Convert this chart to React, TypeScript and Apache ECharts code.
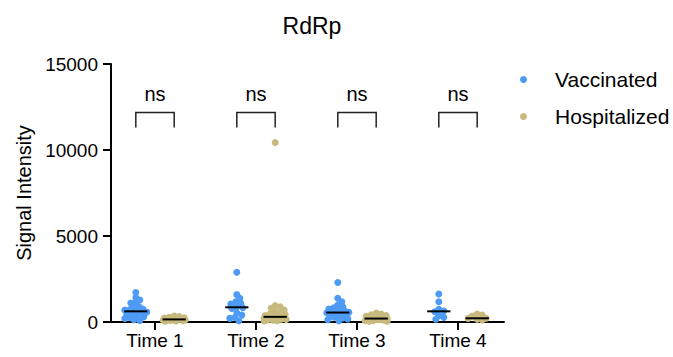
import React, { useEffect, useRef } from "react";
import * as echarts from "echarts";

const TITLE = "RdRp";
const CATEGORIES = ["Time 1", "Time 2", "Time 3", "Time 4"];
const SERIES_NAMES = ["Vaccinated", "Hospitalized"];
const Y_AXIS_NAME = "Signal Intensity";
const SIG_LABELS = ["ns", "ns", "ns", "ns"];

const VACC_T1 = [1720, 1420, 1280, 1140, 1100, 900, 880, 760, 720, 690, 620, 580, 520, 450, 410, 330, 300, 260, 200, 130, 90];
const VACC_T2 = [2890, 1590, 1380, 1180, 1090, 1050, 880, 830, 780, 520, 400, 260, 210, 75];
const VACC_T3 = [2300, 1380, 1180, 980, 890, 820, 760, 700, 640, 600, 560, 540, 520, 480, 430, 380, 330, 280, 230, 180, 130, 80];
const VACC_T4 = [1625, 1180, 740, 640, 600, 370, 270, 160];

const HOSP_T1 = [350, 320, 280, 250, 230, 200, 180, 160, 150, 140, 120, 110, 100, 90, 80, 60, 50];
const HOSP_T2 = [10440, 950, 880, 800, 700, 600, 520, 480, 420, 380, 350, 320, 300, 280, 260, 240, 220, 200, 180, 160, 140, 120, 100, 80, 60];
const HOSP_T3 = [520, 460, 420, 380, 330, 300, 260, 230, 210, 190, 170, 150, 130, 110, 90, 70, 50, 40];
const HOSP_T4 = [460, 400, 350, 215, 210, 160, 115];

const VACCINATED = [VACC_T1, VACC_T2, VACC_T3, VACC_T4];
const HOSPITALIZED = [HOSP_T1, HOSP_T2, HOSP_T3, HOSP_T4];

const Y_MIN = 0;
const Y_MAX = 15000;
const Y_INTERVAL = 5000;
const BRACKET_TOP = 12180;
const BRACKET_LEG = 11310;
const SIG_TEXT_Y = 13250;

const COLORS = ["#4E9BF5", "#C8B97E"];
const FONT = "'Liberation Sans', Arial, sans-serif";

const X_MIN = 1 - 44 / 101;
const X_MAX = X_MIN + 393 / 101;
const GROUP_OFFSET = 0.19;
const PX_X = 101;
const PX_Y = 258 / 15000;

function median(arr: number[]) {
  const s = [...arr].sort((a, b) => a - b);
  const n = s.length;
  return n % 2 ? s[(n - 1) / 2] : (s[n / 2 - 1] + s[n / 2]) / 2;
}

function swarm(values: number[], center: number): number[][] {
  const placed: { x: number; y: number }[] = [];
  const out: number[][] = [];
  const D = 4.6;
  const sorted = [...values].sort((a, b) => b - a);
  for (const v of sorted) {
    const py = v * PX_Y;
    let bestDx = 0;
    let bestScore = -1;
    for (let k = 0; k <= 22; k++) {
      const dx = k === 0 ? 0 : k % 2 ? (k + 1) / 2 : -k / 2;
      let minD = Infinity;
      for (const p of placed) {
        const d = Math.hypot(p.x - dx, p.y - py);
        if (d < minD) minD = d;
      }
      if (minD >= D) {
        bestDx = dx;
        bestScore = Infinity;
        break;
      }
      if (minD > bestScore) {
        bestScore = minD;
        bestDx = dx;
      }
    }
    placed.push({ x: bestDx, y: py });
    out.push([center + bestDx / PX_X, v]);
  }
  return out;
}

export default function App() {
  const ref = useRef<HTMLDivElement>(null);
  useEffect(() => {
    if (!ref.current) return;
    const chart = echarts.init(ref.current, null, { renderer: "svg" });
    const groups = [VACCINATED, HOSPITALIZED];
    const scatterSeries = groups.map((g, gi) => {
      const off = gi === 0 ? -GROUP_OFFSET : GROUP_OFFSET;
      const data: number[][] = [];
      g.forEach((vals, ci) => {
        data.push(...swarm(vals, ci + 1 + off));
      });
      return {
        name: SERIES_NAMES[gi],
        type: "scatter",
        symbol: "circle",
        symbolSize: 7,
        itemStyle: { color: COLORS[gi], opacity: 1 },
        data,
        z: 2,
      };
    });
    const medianData: number[][] = [];
    groups.forEach((g, gi) => {
      const off = gi === 0 ? -GROUP_OFFSET : GROUP_OFFSET;
      g.forEach((vals, ci) => medianData.push([ci + 1 + off, median(vals)]));
    });
    const option: any = {
      animation: false,
      textStyle: { fontFamily: FONT },
      title: {
        text: TITLE,
        left: 307,
        top: 9,
        textAlign: "center",
        textStyle: { fontSize: 23, fontWeight: "normal", color: "#000", fontFamily: FONT },
      },
      legend: {
        orient: "vertical",
        left: 520,
        top: 69,
        padding: 0,
        itemWidth: 7,
        itemHeight: 7,
        itemGap: 16,
        icon: "circle",
        data: SERIES_NAMES,
        textStyle: { fontSize: 21, color: "#000", fontFamily: FONT, padding: [0, 0, 0, 23] },
      },
      grid: { left: 111, right: 169, top: 64, bottom: 35 },
      xAxis: {
        type: "value",
        min: X_MIN,
        max: X_MAX,
        axisLine: { show: true, lineStyle: { color: "#000", width: 2 } },
        axisTick: { show: true, customValues: [1, 2, 3, 4], length: 8, lineStyle: { color: "#000", width: 2 } },
        axisLabel: {
          customValues: [1, 2, 3, 4],
          formatter: (v: number) => CATEGORIES[Math.round(v) - 1] || "",
          fontSize: 19,
          color: "#000",
          margin: 9,
          fontFamily: FONT,
        },
        splitLine: { show: false },
      },
      yAxis: {
        type: "value",
        min: Y_MIN,
        max: Y_MAX,
        interval: Y_INTERVAL,
        name: Y_AXIS_NAME,
        nameLocation: "middle",
        nameGap: 74,
        nameTextStyle: { fontSize: 20, color: "#000", fontFamily: FONT },
        axisLine: { show: true, lineStyle: { color: "#000", width: 2 } },
        axisTick: { show: true, length: 8, lineStyle: { color: "#000", width: 2 } },
        axisLabel: {
          fontSize: 19,
          color: "#000",
          margin: 13,
          fontFamily: FONT,
          formatter: (v: number) => String(v),
        },
        splitLine: { show: false },
      },
      series: [
        ...scatterSeries,
        {
          type: "custom",
          name: "median",
          data: medianData,
          z: 3,
          silent: true,
          renderItem: (params: any, api: any) => {
            const x = api.value(0);
            const y = api.value(1);
            const a = api.coord([x - 0.115, y]);
            const b = api.coord([x + 0.115, y]);
            return {
              type: "line",
              shape: { x1: a[0], y1: a[1], x2: b[0], y2: b[1] },
              style: { stroke: "#000", lineWidth: 2 },
            };
          },
        },
        {
          type: "custom",
          name: "sig",
          data: CATEGORIES.map((_, i) => [i + 1, BRACKET_TOP]),
          silent: true,
          clip: false,
          renderItem: (params: any, api: any) => {
            const x = api.value(0);
            const l = api.coord([x - GROUP_OFFSET, BRACKET_TOP]);
            const r = api.coord([x + GROUP_OFFSET, BRACKET_TOP]);
            const lb = api.coord([x - GROUP_OFFSET, BRACKET_LEG]);
            const rb = api.coord([x + GROUP_OFFSET, BRACKET_LEG]);
            const t = api.coord([x, SIG_TEXT_Y]);
            return {
              type: "group",
              children: [
                {
                  type: "polyline",
                  shape: { points: [lb, l, r, rb] },
                  style: { stroke: "#222", lineWidth: 1.5, fill: "none" },
                },
                {
                  type: "text",
                  x: t[0],
                  y: t[1],
                  style: {
                    text: SIG_LABELS[params.dataIndex],
                    fontSize: 20,
                    fontFamily: FONT,
                    fill: "#000",
                    align: "center",
                    verticalAlign: "middle",
                  },
                },
              ],
            };
          },
        },
      ],
    };
    chart.setOption(option);
    return () => chart.dispose();
  }, []);
  return (
    <div
      ref={ref}
      style={{ position: "fixed", left: 0, top: 0, width: 673, height: 357, background: "#fff" }}
    />
  );
}
